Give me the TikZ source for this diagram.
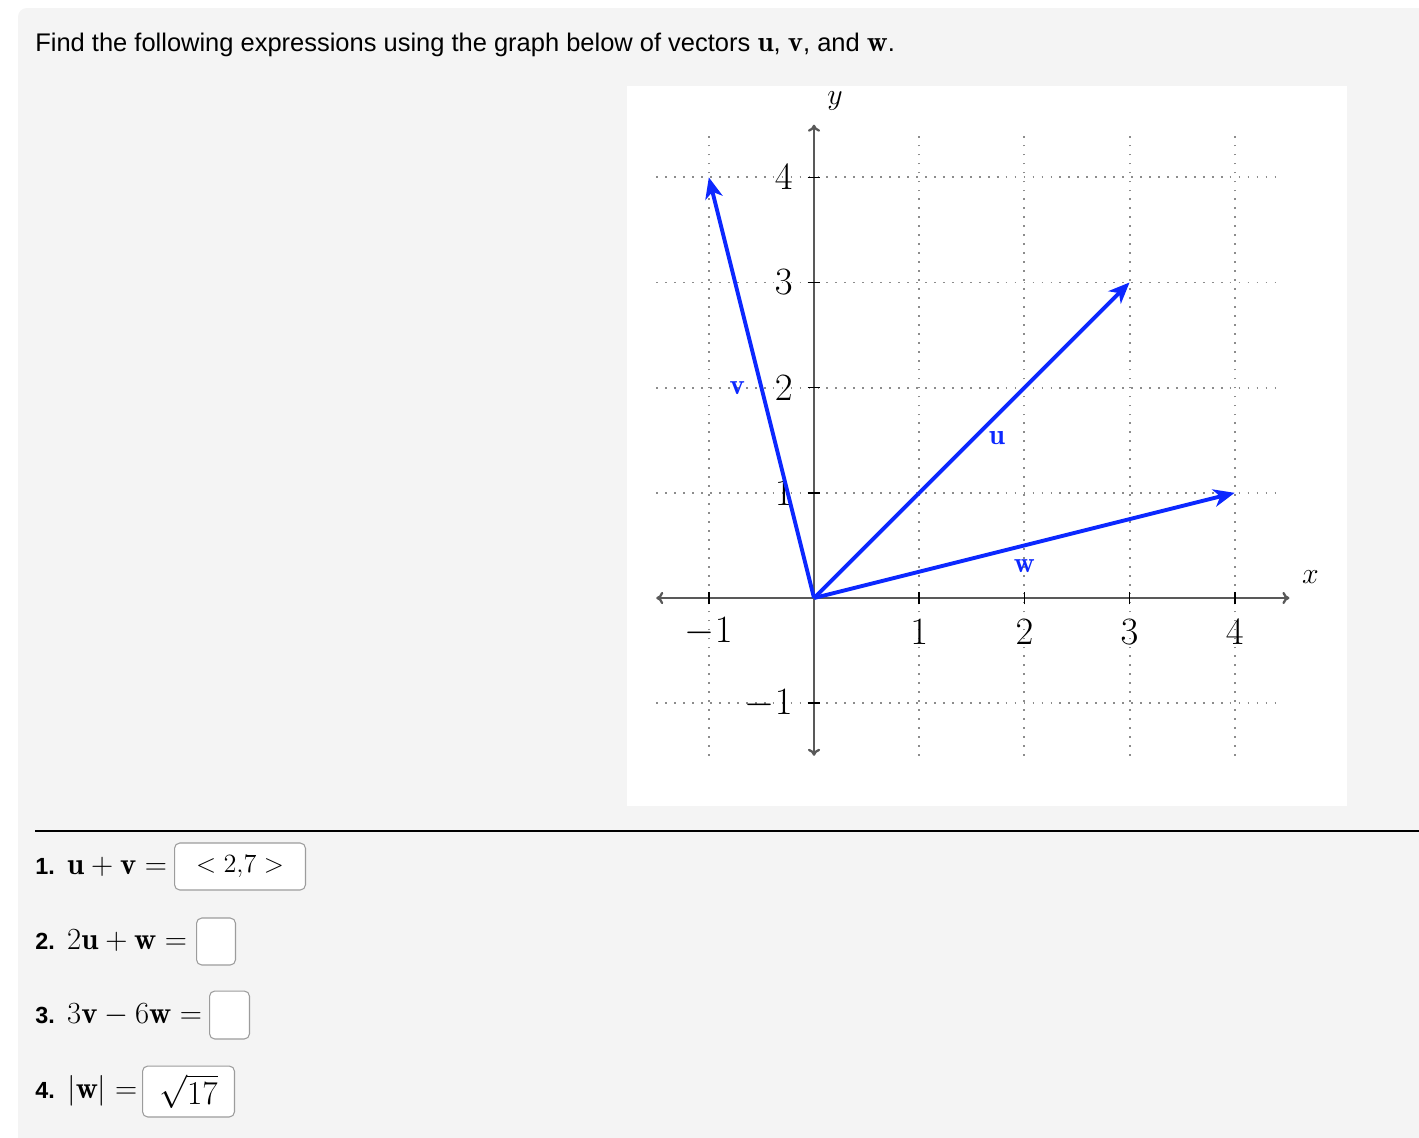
\RequirePackage{fix-cm}
\documentclass[tikz,border=0pt]{standalone}
\usepackage{fontspec}
\newfontfamily\arialfont{Liberation Sans}
\usetikzlibrary{arrows.meta}

\definecolor{cardgray}{HTML}{F4F4F4}
\definecolor{vecblue}{RGB}{12,40,255}
\definecolor{boxgray}{HTML}{9C9C9C}

\tikzset{
  gridline/.style={black!45, line width=1.1pt, dash pattern=on 1pt off 4.1pt},
  axisline/.style={black!65, line width=1.3pt},
  vecarrow/.style={vecblue, line width=2.2pt, -{Stealth[length=12pt, width=10pt, inset=3.5pt]}},
  veclabel/.style={text=vecblue, inner sep=0pt, font=\fontsize{16.5}{18}\selectfont},
  ticklabel/.style={inner sep=0pt, font=\fontsize{22}{24}\selectfont},
  answerbox/.style={draw=boxgray, fill=white, rounded corners=3pt, line width=0.6pt,
    anchor=west, inner sep=0pt, font=\fontsize{15}{17}\selectfont},
  itemtext/.style={anchor=west, inner sep=0pt, font=\fontsize{17.5}{19}\selectfont}
}
\newcommand{\itemnum}[1]{{\arialfont\bfseries\fontsize{13.3}{15}\selectfont #1}}
\newcommand{\bigmath}[1]{{\fontsize{16.5}{18}\selectfont$\mathbf{#1}$}}

\begin{document}
\begin{tikzpicture}[x=0.02cm, y=-0.02cm]
  \useasboundingbox (0,0) rectangle (1419,1137);
  \fill[cardgray, rounded corners=5pt] (18,8) rectangle (1450,1170);

  \node[anchor=west, inner sep=0pt, font=\arialfont\fontsize{14.5}{17}\selectfont] (title) at (35,45)
    {Find the following expressions using the graph below of vectors \bigmath{u}, \bigmath{v}, and \bigmath{w}.};

  % the white panel with the graph
  \fill[white] (627,86) rectangle (1347,806);
  \begin{scope}[shift={(814,598)}, x=2.104cm, y=2.104cm]
    \coordinate (O) at (0,0);
    \foreach \k in {-1,1,2,3,4} {
      \draw[gridline] (\k,-1.5) -- (\k,4.45);
      \draw[gridline] (-1.5,\k) -- (4.45,\k);
    }
    \draw[axisline, {To[length=4pt,width=7pt]}-{To[length=4pt,width=7pt]}] (-1.5,0) -- (4.52,0);
    \draw[axisline, {To[length=4pt,width=7pt]}-{To[length=4pt,width=7pt]}] (0,-1.5) -- (0,4.5);
    \foreach \k in {-1,1,2,3,4} {
      \draw[black, line width=0.9pt] (\k,-0.06) -- (\k,0.06);
      \draw[black, line width=0.9pt] (-0.06,\k) -- (0.06,\k);
      % tick labels sit below the x axis and left of the y axis
      \node[ticklabel] (xt\k) at (\k,-0.32) {$\k$};
      \node[ticklabel, anchor=east] (yt\k) at (-0.2,\k) {$\k$};
    }
    \node[font=\fontsize{17}{19}\selectfont, inner sep=0pt] (ylab) at (0.2,4.73) {$y$};
    \node[font=\fontsize{17}{19}\selectfont, inner sep=0pt] (xlab) at (4.72,0.2) {$x$};

    \coordinate (uend) at (3,3);
    \coordinate (vend) at (-1,4);
    \coordinate (wend) at (4,1);
    \draw[vecarrow] (O) -- (uend);
    \draw[vecarrow] (O) -- (vend);
    \draw[vecarrow] (O) -- (wend);
    \node[veclabel] (ulab) at (1.74,1.52) {$\mathbf{u}$};
    \node[veclabel] (vlab) at (-0.73,2.0) {$\mathbf{v}$};
    \node[veclabel] (wlab) at (2.0,0.3) {$\mathbf{w}$};
  \end{scope}

  \draw[black, line width=0.6pt] (35,831) -- (1419,831);

  % the four questions and their answer boxes
  \node[itemtext] (q1) at (35,867) {\itemnum{1.} $\mathbf{u}+\mathbf{v}=$};
  \node[itemtext] (q2) at (35,941) {\itemnum{2.} $2\mathbf{u}+\mathbf{w}=$};
  \node[itemtext] (q3) at (35,1015) {\itemnum{3.} $3\mathbf{v}-6\mathbf{w}=$};
  \node[itemtext] (q4) at (35,1091) {\itemnum{4.} $|\mathbf{w}|=$};

  \node[answerbox, minimum width=2.62cm, minimum height=0.94cm] (a1) at (174,866.5) {$<2{,}7>$};
  \node[answerbox, minimum width=0.78cm, minimum height=0.94cm] (a2) at (196,941.5) {};
  \node[answerbox, minimum width=0.80cm, minimum height=0.96cm] (a3) at (209,1015) {};
  \node[answerbox, minimum width=1.84cm, minimum height=1.02cm,
    font=\fontsize{19}{21}\selectfont] (a4) at (142,1091.5) {$\sqrt{17}$};
\end{tikzpicture}
\end{document}
